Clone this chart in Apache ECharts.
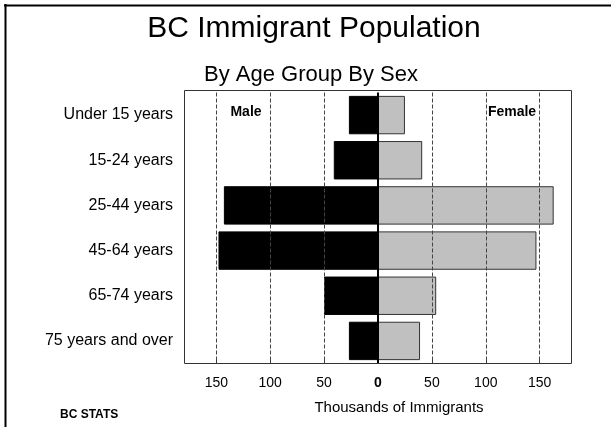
<!DOCTYPE html>
<html>
<head>
<meta charset="utf-8">
<script src="https://cdn.jsdelivr.net/npm/echarts@6/dist/echarts.min.js"></script>
<style>
  html, body { margin: 0; padding: 0; background: #fff; }
  #chart { width: 611px; height: 427px; }
</style>
</head>
<body>
<div id="chart"></div>
<script>
// Immigrant population of BC, thousands, by age group and sex
const ageGroups = ['Under 15 years', '15-24 years', '25-44 years', '45-64 years', '65-74 years', '75 years and over'];
const male   = [27, 41, 143, 148, 50, 27];
const female = [25, 41, 163, 147, 54, 39];
const tickValues = [-150, -100, -50, 0, 50, 100, 150];
const gridValues = [-150, -100, -50, 50, 100, 150];

const FONT = '"Liberation Sans", Arial, Helvetica, sans-serif';

const chart = echarts.init(document.getElementById('chart'), null, { renderer: 'canvas' });

chart.setOption({
  animation: false,
  backgroundColor: '#ffffff',
  textStyle: { fontFamily: FONT, color: '#000' },
  grid: {
    left: 184, top: 92.5, width: 388, height: 271,
    show: false
  },
  xAxis: {
    type: 'value',
    min: -180, max: 180,
    splitLine: { show: false },
    axisLine: { show: false },
    axisTick: { show: true, inside: true, length: 4, customValues: tickValues, lineStyle: { color: '#333' } },
    axisLabel: {
      customValues: tickValues,
      margin: 13,
      fontSize: 14,
      fontFamily: FONT,
      color: '#000',
      formatter: v => v === 0 ? '{z|0}' : String(Math.abs(v)),
      rich: { z: { fontWeight: 'bold', fontSize: 14, fontFamily: FONT, color: '#000' } }
    },
    name: 'Thousands of Immigrants',
    nameLocation: 'middle',
    nameGap: 37,
    nameTextStyle: { fontSize: 15, fontFamily: FONT, color: '#000', padding: [0, 0, 0, 42] }
  },
  yAxis: {
    type: 'category',
    inverse: true,
    data: ageGroups,
    axisLine: { show: false },
    axisTick: { show: false },
    axisLabel: { fontSize: 16, fontFamily: FONT, color: '#000', margin: 11 }
  },
  series: [
    {
      name: 'Male',
      type: 'bar',
      stack: 'pop',
      barCategoryGap: '15%',
      data: male.map(v => -v),
      itemStyle: { color: '#000000', borderColor: '#000000', borderWidth: 1 },
      markLine: {
        silent: true,
        symbol: 'none',
        label: { show: false },
        lineStyle: { color: '#444', type: [4, 2], width: 1 },
        data: gridValues.map(v => ({ xAxis: v }))
      },
      z: 3
    },
    {
      name: 'Female',
      type: 'bar',
      stack: 'pop',
      barCategoryGap: '15%',
      data: female,
      itemStyle: { color: '#c0c0c0', borderColor: '#333333', borderWidth: 1 },
      markLine: {
        silent: true,
        symbol: 'none',
        label: { show: false },
        lineStyle: { color: '#000', type: 'solid', width: 2 },
        data: [{ xAxis: 0 }],
        z: 10
      },
      z: 3
    }
  ],
  graphic: [
    // page frame (top and left edges)
    { type: 'line', shape: { x1: 4, y1: 5.5, x2: 611, y2: 5.5 }, style: { stroke: '#000', lineWidth: 2 } },
    { type: 'line', shape: { x1: 5.5, y1: 4, x2: 5.5, y2: 427 }, style: { stroke: '#000', lineWidth: 2 } },
    // plot frame
    { type: 'rect', z: 15, shape: { x: 184.5, y: 90.5, width: 387, height: 273 }, style: { fill: 'none', stroke: '#333', lineWidth: 1 } },
    { type: 'text', x: 314, y: 29, style: { text: 'BC Immigrant Population', font: '30px ' + FONT, fill: '#000', textAlign: 'center', textVerticalAlign: 'middle' } },
    { type: 'text', x: 311, y: 75, style: { text: 'By Age Group By Sex', font: '22px ' + FONT, fill: '#000', textAlign: 'center', textVerticalAlign: 'middle' } },
    { type: 'text', x: 246, y: 112, z: 20, style: { text: 'Male', font: 'bold 14px ' + FONT, fill: '#000', textAlign: 'center', textVerticalAlign: 'middle' } },
    { type: 'text', x: 512, y: 112, z: 20, style: { text: 'Female', font: 'bold 14px ' + FONT, fill: '#000', textAlign: 'center', textVerticalAlign: 'middle' } },
    { type: 'text', x: 60, y: 415, style: { text: 'BC STATS', font: 'bold 12px ' + FONT, fill: '#000', textAlign: 'left', textVerticalAlign: 'middle' } }
  ]
});
</script>
</body>
</html>
